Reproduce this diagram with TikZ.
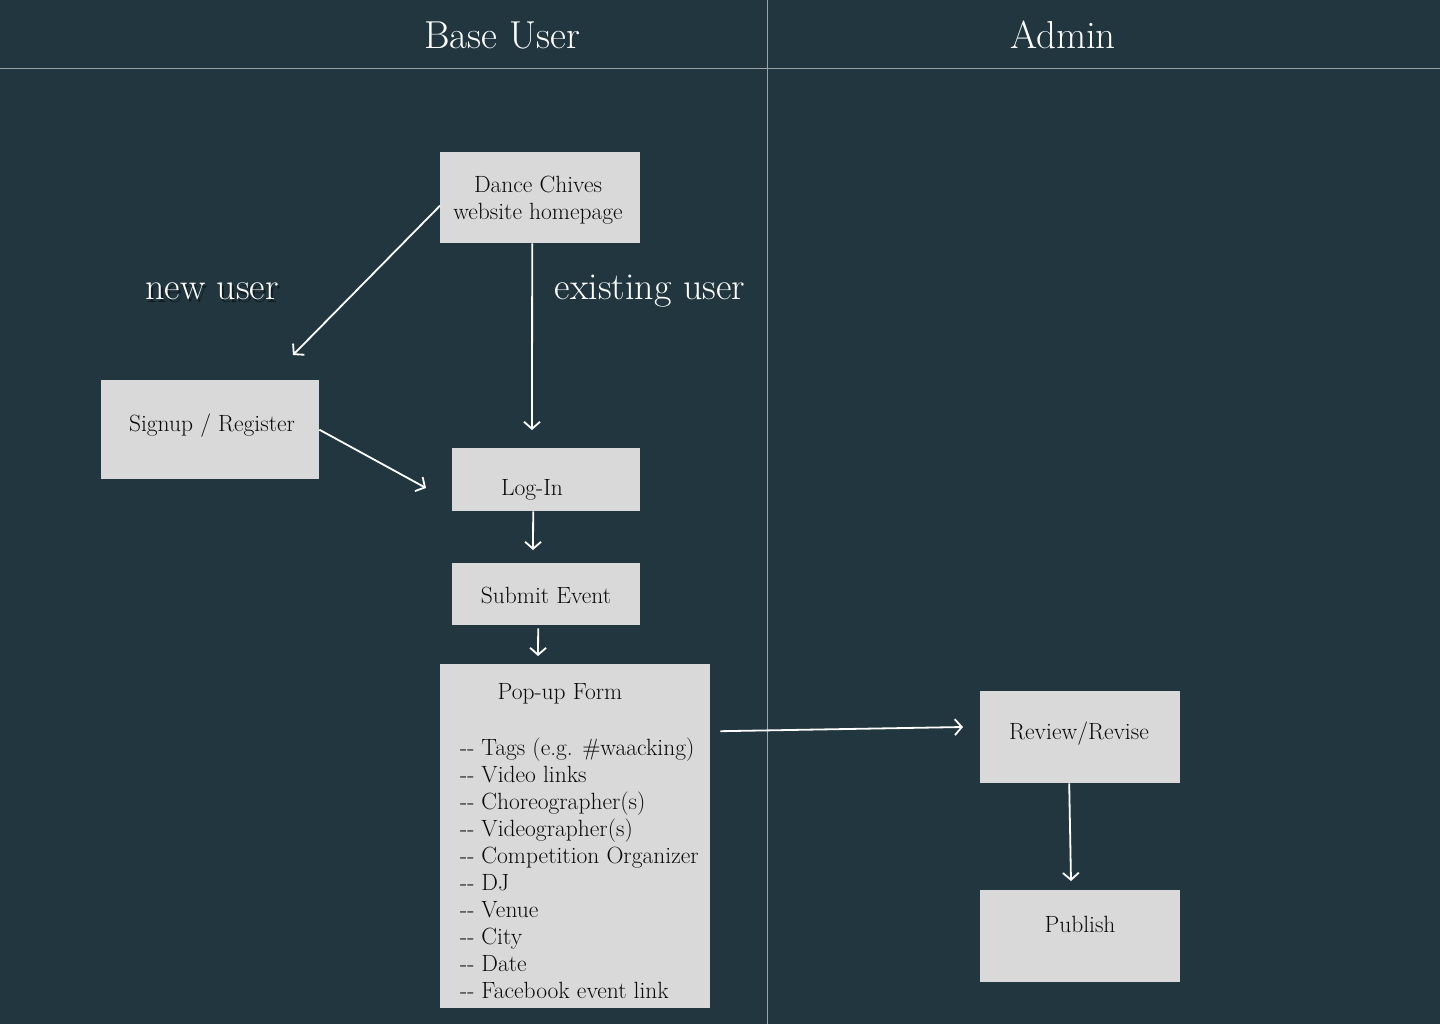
\documentclass[tikz,border=0pt]{standalone}
\usepackage{fontspec}
\usetikzlibrary{arrows.meta}
\definecolor{bg}{HTML}{21363F}
\definecolor{boxc}{HTML}{D9D9D9}
\definecolor{sepc}{HTML}{9AA5AA}
\definecolor{txt}{HTML}{0A0A0A}
\begin{document}
\begin{tikzpicture}[x=1pt,y=-1pt,
  box/.style={fill=boxc, draw=none, inner sep=0pt, anchor=north west},
  lbl/.style={text=txt, inner sep=0pt, font=\fontsize{23.5}{27}\selectfont},
  head/.style={text=white, inner sep=0pt, font=\fontsize{39}{42}\selectfont},
  edge/.style={text=white, inner sep=0pt, font=\fontsize{38}{42}\selectfont},
  arr/.style={draw=white, line width=1.8pt, -{Straight Barb[length=7pt,width=16pt]}},
  sepline/.style={draw=sepc, line width=0.8pt}]
\useasboundingbox (0,0) rectangle (1440,1024);
\fill[bg] (0,0) rectangle (1440,1024);
% lanes
\coordinate (hl) at (0,68);
\coordinate (hr) at (1440,68);
\coordinate (vt) at (767,0);
\coordinate (vb) at (767,1024);
\draw[sepline] (hl) -- (hr);
\draw[sepline] (vt) -- (vb);
\node[head, anchor=base] (baseuser) at (502,49) {Base User};
\node[head, anchor=base] (admin) at (1063,49) {Admin};
% boxes
\node[box, minimum width=200pt, minimum height=91pt] (home) at (440,152) {};
\node[box, minimum width=218pt, minimum height=99pt] (signup) at (101,380) {};
\node[box, minimum width=188pt, minimum height=63pt] (login) at (452,448) {};
\node[box, minimum width=188pt, minimum height=62pt] (submit) at (452,563) {};
\node[box, minimum width=270pt, minimum height=344pt] (popup) at (440,664) {};
\node[box, minimum width=200pt, minimum height=92pt] (review) at (980,691) {};
\node[box, minimum width=200pt, minimum height=92pt] (publish) at (980,890) {};
% texts
\node[lbl, anchor=base] (homeT1) at (538,193) {Dance Chives};
\node[lbl, anchor=base] (homeT2) at (538,220) {website homepage};
\node[lbl, anchor=base] (signupT) at (212,431) {Signup / Register};
\node[lbl, anchor=base] (loginT) at (532,495) {Log-In};
\node[lbl, anchor=base] (submitT) at (546,603) {Submit Event};
\node[lbl, anchor=base] (popupT) at (560,699) {Pop-up Form};
\node[lbl, align=left, anchor=west] (popupL) at (460,868) {-{}- Tags (e.g. \#waacking)\\-{}- Video links\\-{}- Choreographer(s)\\-{}- Videographer(s)\\-{}- Competition Organizer\\-{}- DJ\\-{}- Venue\\-{}- City\\-{}- Date\\-{}- Facebook event link};
\node[lbl, anchor=base] (reviewT) at (1079,739) {Review/Revise};
\node[lbl, anchor=base] (publishT) at (1080,932) {Publish};
% edge labels
\node[edge, text=black, opacity=0.5, anchor=base] (newS) at (214,302) {new user};
\node[edge, anchor=base] (newU) at (212,300) {new user};
\node[edge, anchor=base] (existU) at (650,300) {existing user};
% arrow end points
\coordinate (e1) at (293,355);
\coordinate (e2) at (532,430);
\coordinate (e3) at (426,488);
\coordinate (e4) at (533,550);
\coordinate (e5) at (538,656);
\coordinate (e6) at (963,727);
\coordinate (e7) at (1071,881);
% connectors
\draw[arr] ([yshift=-8pt]home.west) -- (e1);
\draw[arr] ([xshift=-8pt]home.south) -- (e2);
\draw[arr] (signup.east) -- (e3);
\draw[arr] ([xshift=-13pt]login.south) -- (e4);
\draw[arr] ([xshift=-8pt,yshift=-3pt]submit.south) -- (e5);
\draw[arr] ([xshift=10pt,yshift=105pt]popup.east) -- (e6);
\draw[arr] ([xshift=-11pt]review.south) -- (e7);
\end{tikzpicture}
\end{document}
